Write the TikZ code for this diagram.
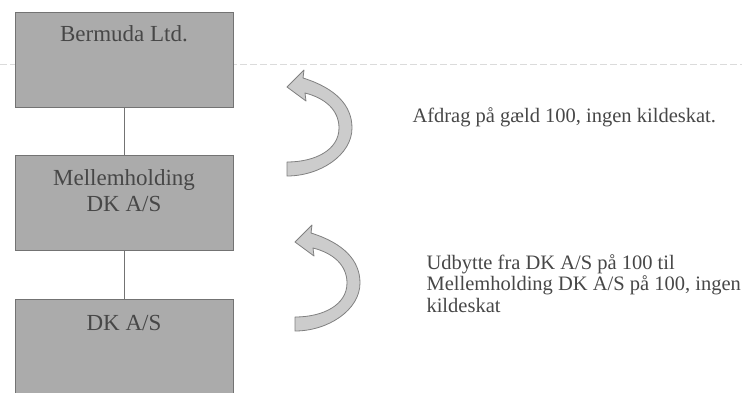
\documentclass[tikz,border=0pt]{standalone}
\usepackage{fontspec}
\setmainfont{Liberation Serif}
\usetikzlibrary{positioning}
\colorlet{boxgr}{black!33}
\colorlet{boxedge}{black!55}
\colorlet{arrgr}{black!20}
\colorlet{txtgr}{black!72}

\begin{document}
\begin{tikzpicture}[
        x=1pt,y=-1pt,
        firm/.style={draw=boxedge,fill=boxgr,minimum width=218pt,minimum height=95pt,inner sep=0pt},
        firmtext/.style={anchor=base,text=txtgr,align=center,font=\fontsize{23}{26}\selectfont},
        note/.style={anchor=base west,text=txtgr,align=left,font=\fontsize{20.5}{21.5}\selectfont},
        bendarrow/.pic={
            \filldraw[fill=arrgr,draw=black!50,line width=0.8pt,line join=round]
                (0,0) -- (17,-17) -- (16,-9)
                .. controls (48,1) and (65,18) .. (65,41)
                .. controls (65,68) and (33,89) .. (0,89)
                -- (0,75)
                .. controls (28,75) and (52,63) .. (52,41)
                .. controls (52,23) and (38,11) .. (18,6)
                -- (19,14) -- cycle;
        }
    ]
    \useasboundingbox (0,0) rectangle (742,392);
    \draw[black!14,dash pattern=on 7pt off 3pt] (0,64) -- (742,64);
    \node[firm] (bermuda) at (124,59.5) {};
    \node[firm,below=48pt of bermuda] (mellem) {};
    \node[firm,below=48pt of mellem] (dkas) {};
    \node[firmtext] (bermudatxt) at ([yshift=-30pt]bermuda.north) {Bermuda Ltd.};
    \node[firmtext] (mellemtxt) at ([yshift=-56pt]mellem.north) {Mellemholding\\DK A/S};
    \node[firmtext] (dkastxt) at ([yshift=-32pt]dkas.north) {DK A/S};
    \draw[boxedge] (bermuda) -- (mellem);
    \draw[boxedge] (mellem) -- (dkas);
    % arrows
    \pic (afdrag) at (287,87) {bendarrow};
    \pic (udbytte) at (295,242) {bendarrow};
    \node[note] (afdragtxt) at (409,122) {Afdrag på gæld 100, ingen kildeskat.};
    \node[note] (udbyttetxt) at (423,312) {Udbytte fra DK A/S på 100 til\\Mellemholding DK A/S på 100, ingen\\kildeskat};
\end{tikzpicture}
\end{document}
